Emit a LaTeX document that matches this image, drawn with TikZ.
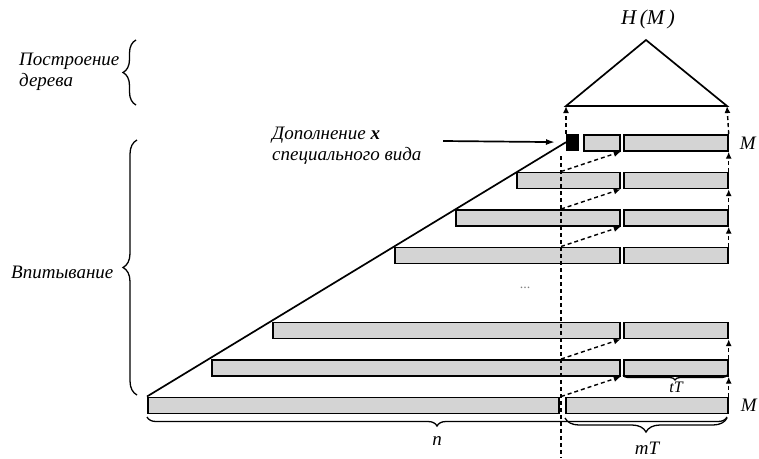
\documentclass[tikz,border=0pt]{standalone}
\usepackage{fontspec}
\setmainfont{Liberation Serif}
\usetikzlibrary{positioning,arrows.meta,decorations.pathreplacing}
\definecolor{BarGray}{RGB}{212,212,212}
\tikzset{
  bar/.style={draw=black,fill=BarGray,line width=1.7pt,minimum height=16pt,inner sep=0pt,anchor=north west},
  pad/.style={draw=black,fill=black,minimum width=12pt,minimum height=16pt,inner sep=0pt,anchor=north west},
  link/.style={line width=1.4pt,dash pattern=on 4pt off 3pt,-{Latex[length=7pt,width=6pt]}},
  guide/.style={line width=1.4pt,dash pattern=on 4pt off 3pt},
  lbl/.style={font=\fontsize{19}{21}\selectfont\itshape,inner sep=0pt,align=left},
  brc/.style={decorate,decoration={brace,amplitude=#1},line width=1.3pt},
}

\begin{document}
\begin{tikzpicture}[x=1pt,y=-1pt]
\useasboundingbox (0,0) rectangle (759,458);
% tree on top
\coordinate (tl) at (566,106);
\coordinate (tr) at (727,106);
\coordinate (tp) at (646,40);
\draw[line width=1.7pt] (tl)--(tp)--(tr)--cycle;
\node[lbl,font=\fontsize{21}{21}\selectfont\itshape] (hm) at (648,19) {H\,(M\,)};
% rows of blocks
\node[pad] (pad) at (566,134) {};
\node[bar,minimum width=36pt] (a1) at (583,134) {};
\node[bar,minimum width=104pt] (b1) at (623,134) {};
\node[bar,minimum width=103pt] (a2) at (516,171.5) {};
\node[bar,minimum width=104pt] (b2) at (623,171.5) {};
\node[bar,minimum width=164pt] (a3) at (455,209) {};
\node[bar,minimum width=104pt] (b3) at (623,209) {};
\node[bar,minimum width=225pt] (a4) at (394,246.5) {};
\node[bar,minimum width=104pt] (b4) at (623,246.5) {};
\node[bar,minimum width=347pt] (a5) at (272,321.5) {};
\node[bar,minimum width=104pt] (b5) at (623,321.5) {};
\node[bar,minimum width=408pt] (a6) at (211,359) {};
\node[bar,minimum width=104pt] (b6) at (623,359) {};
\node[bar,minimum width=411pt] (a7) at (147,396.5) {};
\node[bar,minimum width=162pt] (b7) at (565,396.5) {};
\node[font=\fontsize{14}{14}\selectfont,text=gray] (dots) at (525,288) {...};
% slope
\draw[line width=1.7pt] (a7.north west) -- (pad.west);
% dashed guide
\coordinate (vtop) at (561,156);
\coordinate (vbot) at (561,458);
\draw[guide] (vtop) -- (vbot);
% arrows up to the tree
\draw[link] (pad.north west) -- (tl);
\draw[link] (b1.north east) -- (tr);
\draw[link] (b2.north east) -- (b1.south east);
\draw[link] (b3.north east) -- (b2.south east);
\draw[link] (b4.north east) -- (b3.south east);
\draw[link] (b6.north east) -- (b5.south east);
\draw[link] (b7.north east) -- (b6.south east);
% arrows across
\draw[link] (vtop |- a2.north) -- (a1.south east);
\draw[link] (vtop |- a3.north) -- (a2.south east);
\draw[link] (vtop |- a4.north) -- (a3.south east);
\draw[link] (vtop |- a6.north) -- (a5.south east);
\draw[link] (vtop |- a7.north) -- (a6.south east);
% labels
\node[lbl,right=11pt of b1] (m1) {M};
\node[lbl,right=12pt of b7] (m7) {M};
\node[lbl,anchor=west] (tree) at (19,72) {Построение\\дерева};
\node[lbl,anchor=west] (absorb) at (11,272) {Впитывание};
\node[lbl,anchor=west] (extra) at (272,146) {Дополнение \textbf{x}\\специального вида};
\coordinate (xa) at (443,141);
\draw[line width=1.7pt,-{Latex[length=9pt,width=6pt]}] (xa) -- (pad.west) [shorten >=11pt];
% braces
\draw[brc=13pt] (136,105) -- (136,40);
\draw[brc=14pt] (137,395) -- (137,140);
\draw[brc=9pt] (727,417) -- (147,417);
\draw[brc=14pt] (727,418) -- (565,418);
\draw[brc=5pt] (727,375) -- (623,375);
\node[lbl] (n) at (437,441) {n};
\node[lbl] (mt) at (647,448) {mT};
\node[lbl,font=\fontsize{16}{16}\selectfont\itshape] (tt) at (676,387.5) {tT};
\end{tikzpicture}
\end{document}
